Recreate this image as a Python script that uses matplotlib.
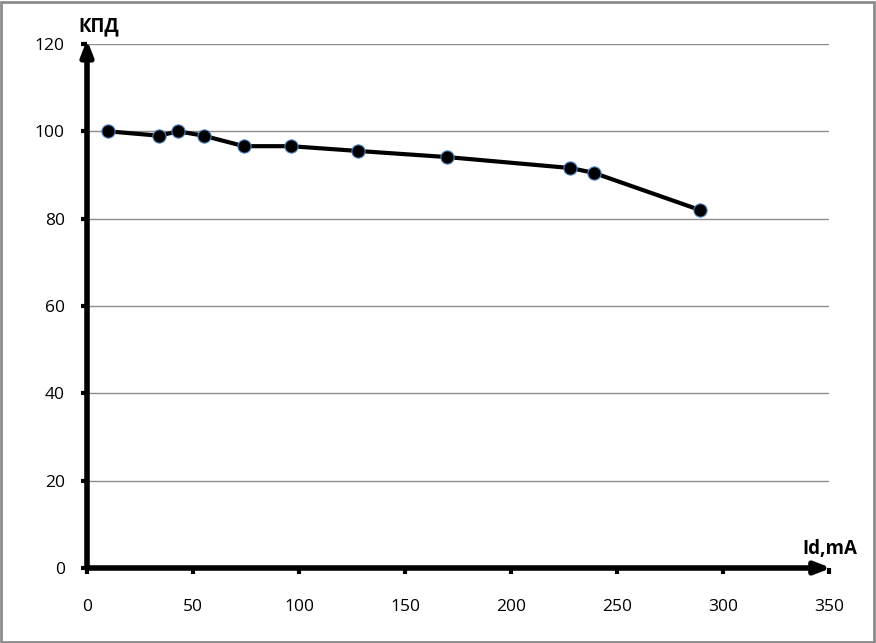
import matplotlib.pyplot as plt
from matplotlib.patches import Rectangle

# data
current_ma = [10, 34, 43, 55, 74, 96, 128, 170, 228, 239, 289]
efficiency = [100, 99, 100, 99, 96.6, 96.6, 95.5, 94.1, 91.6, 90.5, 82]

x_ticks = [0, 50, 100, 150, 200, 250, 300, 350]
y_ticks = [0, 20, 40, 60, 80, 100, 120]

plt.rcParams['font.family'] = ['Open Sans', 'DejaVu Sans']

fig = plt.figure(figsize=(8.76, 6.43), dpi=100)
ax = fig.add_axes([87 / 876, 1 - 568 / 643, (829 - 87) / 876, (568 - 44) / 643])

ax.set_xlim(0, 350)
ax.set_ylim(0, 120)
ax.set_xticks(x_ticks)
ax.set_yticks(y_ticks)
ax.tick_params(labelsize=12.5, length=4, width=3, colors='black')
ax.tick_params(axis='x', pad=18)
ax.tick_params(axis='y', pad=12)
ax.grid(axis='y', color='#8c8c8c', linewidth=1)
ax.set_axisbelow(True)
for s in ax.spines.values():
    s.set_visible(False)

# axis arrows
ax.annotate('', xy=(0, 121), xytext=(0, 0), xycoords='data',
            arrowprops=dict(arrowstyle='-|>,head_length=0.9,head_width=0.35',
                            color='black', lw=4, shrinkA=0, shrinkB=0),
            annotation_clip=False)
ax.annotate('', xy=(351, 0), xytext=(0, 0), xycoords='data',
            arrowprops=dict(arrowstyle='-|>,head_length=0.9,head_width=0.35',
                            color='black', lw=4, shrinkA=0, shrinkB=0),
            annotation_clip=False)

ax.plot(current_ma, efficiency, color='black', linewidth=3, marker='o',
        markersize=9.5, markerfacecolor='black', markeredgecolor='#4f81bd',
        markeredgewidth=0.8, zorder=5, clip_on=False)

fig.text(78 / 876, 1 - 26 / 643, 'КПД', fontsize=13.5, fontweight='bold', va='center', ha='left')
fig.text(802 / 876, 1 - 549 / 643, 'Id,mA', fontsize=13.5, fontweight='bold', va='center', ha='left')

fig.patches.append(Rectangle((1 / 876, 1 / 643), 873 / 876, 640 / 643, transform=fig.transFigure,
                             fill=False, edgecolor='#8c8c8c', linewidth=2))

fig.savefig('out.png', dpi=100)
